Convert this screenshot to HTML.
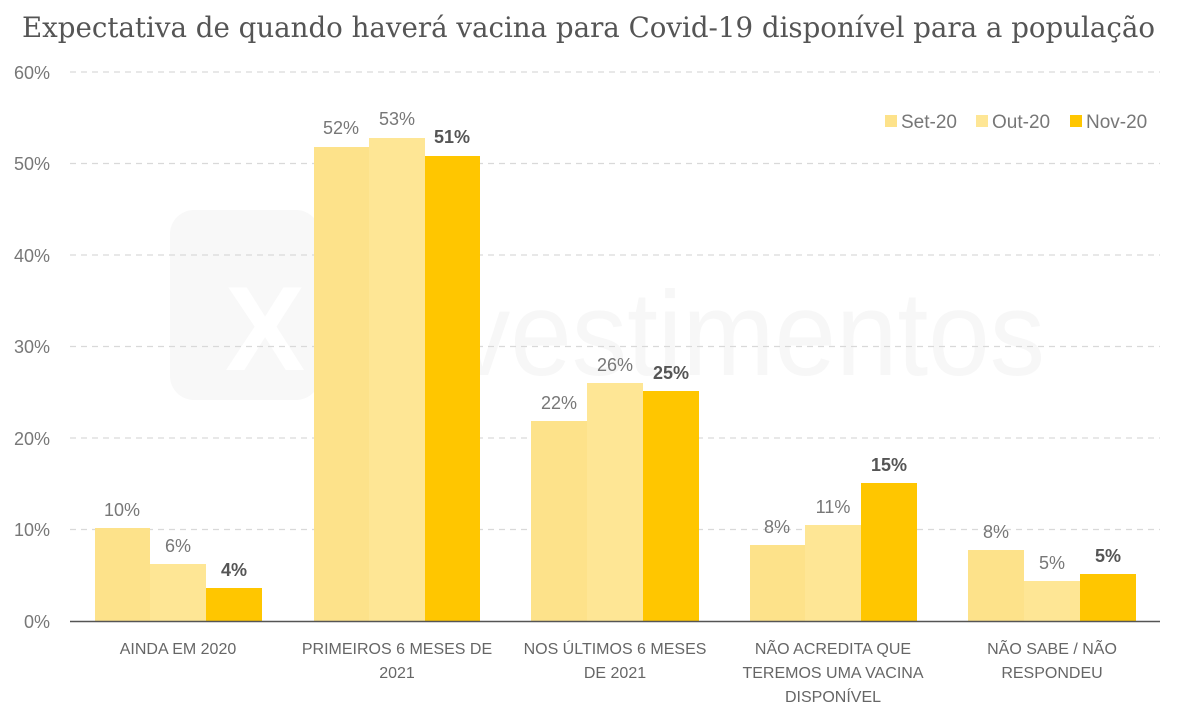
<!DOCTYPE html>
<html><head><meta charset="utf-8"><style>
body{margin:0;background:#fff;}
svg{display:block;font-family:"DejaVu Serif","Liberation Serif",serif;}
</style></head><body>
<svg width="1179" height="714" xmlns="http://www.w3.org/2000/svg">
<text x="22" y="37" font-size="28" fill="#555" textLength="1133" lengthAdjust="spacingAndGlyphs">Expectativa de quando haverá vacina para Covid-19 disponível para a população</text>
<!-- watermark -->
<rect x="170" y="210" width="150" height="190" rx="24" fill="#f8f8f8"/>
<text x="225" y="370" font-family="Liberation Sans,sans-serif" font-size="120" font-weight="bold" fill="#fff">X</text>
<text x="455" y="375" font-family="Liberation Sans,sans-serif" font-size="120" fill="#f7f7f7" textLength="590" lengthAdjust="spacingAndGlyphs">vestimentos</text>
<!-- grid -->
<g stroke="#d9d9d9" stroke-width="1.2" stroke-dasharray="6,5">
<line x1="70" x2="1160" y1="72" y2="72"/><line x1="70" x2="1160" y1="163.5" y2="163.5"/>
<line x1="70" x2="1160" y1="255" y2="255"/><line x1="70" x2="1160" y1="346.5" y2="346.5"/>
<line x1="70" x2="1160" y1="438" y2="438"/><line x1="70" x2="1160" y1="529.5" y2="529.5"/>
</g>
<g font-size="18" fill="#777" text-anchor="end" font-family="Liberation Sans,sans-serif">
<text x="50" y="79">60%</text><text x="50" y="170">50%</text><text x="50" y="262">40%</text>
<text x="50" y="353">30%</text><text x="50" y="445">20%</text><text x="50" y="536">10%</text><text x="50" y="628">0%</text>
</g>
<!-- bars -->
<g>
<rect x="95" y="528" width="55" height="93" fill="#FDE28A"/>
<rect x="150" y="564" width="56" height="57" fill="#FEE695"/>
<rect x="206" y="588" width="56" height="33" fill="#FFC600"/>
<rect x="314" y="147" width="55" height="474" fill="#FDE28A"/>
<rect x="369" y="138" width="56" height="483" fill="#FEE695"/>
<rect x="425" y="156" width="55" height="465" fill="#FFC600"/>
<rect x="531" y="421" width="56" height="200" fill="#FDE28A"/>
<rect x="587" y="383" width="56" height="238" fill="#FEE695"/>
<rect x="643" y="391" width="56" height="230" fill="#FFC600"/>
<rect x="750" y="545" width="55" height="76" fill="#FDE28A"/>
<rect x="805" y="525" width="56" height="96" fill="#FEE695"/>
<rect x="861" y="483" width="56" height="138" fill="#FFC600"/>
<rect x="968" y="550" width="56" height="71" fill="#FDE28A"/>
<rect x="1024" y="581" width="56" height="40" fill="#FEE695"/>
<rect x="1080" y="574" width="56" height="47" fill="#FFC600"/>
</g>
<line x1="70" x2="1160" y1="621.5" y2="621.5" stroke="#555" stroke-width="1.5"/>
<!-- value labels -->
<g font-size="18" fill="#777" text-anchor="middle" font-family="Liberation Sans,sans-serif">
<text x="122" y="516">10%</text><text x="178" y="552">6%</text>
<text x="341" y="134">52%</text><text x="397" y="125">53%</text>
<text x="559" y="409">22%</text><text x="615" y="371">26%</text>
<text x="777" y="533">8%</text><text x="833" y="513">11%</text>
<text x="996" y="538">8%</text><text x="1052" y="569">5%</text>
</g>
<g font-size="18" fill="#555" text-anchor="middle" font-weight="bold" font-family="Liberation Sans,sans-serif">
<text x="234" y="576">4%</text><text x="452" y="143">51%</text><text x="671" y="379">25%</text>
<text x="889" y="471">15%</text><text x="1108" y="562">5%</text>
</g>
<!-- category labels -->
<g font-size="16" fill="#666" text-anchor="middle" font-family="Liberation Sans,sans-serif">
<text x="178" y="654">AINDA EM 2020</text>
<text x="397" y="654">PRIMEIROS 6 MESES DE</text><text x="397" y="678">2021</text>
<text x="615" y="654">NOS ÚLTIMOS 6 MESES</text><text x="615" y="678">DE 2021</text>
<text x="833" y="654">NÃO ACREDITA QUE</text><text x="833" y="678">TEREMOS UMA VACINA</text><text x="833" y="702">DISPONÍVEL</text>
<text x="1052" y="654">NÃO SABE / NÃO</text><text x="1052" y="678">RESPONDEU</text>
</g>
<!-- legend -->
<g font-size="19" fill="#777" font-family="Liberation Sans,sans-serif">
<rect x="885" y="115" width="12" height="12" fill="#FDE28A"/><text x="901" y="128">Set-20</text>
<rect x="976" y="115" width="12" height="12" fill="#FEE695"/><text x="992" y="128">Out-20</text>
<rect x="1070" y="115" width="12" height="12" fill="#FFC600"/><text x="1086" y="128">Nov-20</text>
</g>
</svg>
</body></html>
